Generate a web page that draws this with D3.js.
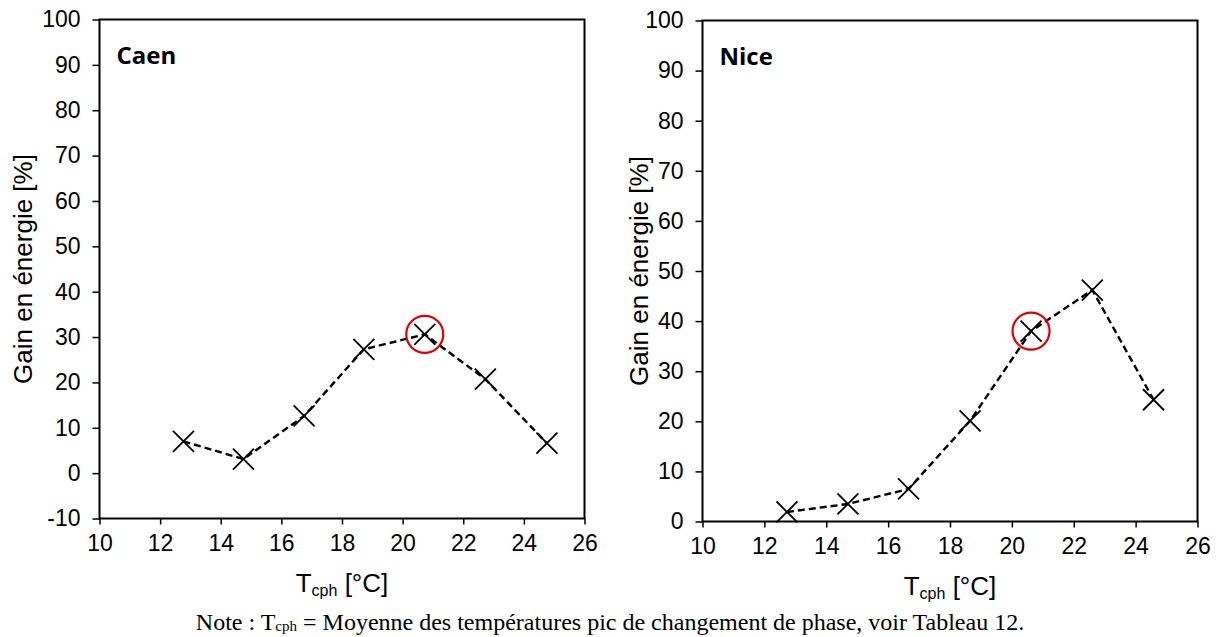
<!DOCTYPE html>
<html>
<head>
<meta charset="utf-8">
<script src="https://cdn.jsdelivr.net/npm/d3@7"></script>
<style>
  body { margin: 0; background: #fff; }
  svg { display: block; }
</style>
</head>
<body>
<svg id="mainsvg" width="1221" height="637"></svg>
<script>
// donnees
const caenT = [12.77, 14.75, 16.75, 18.72, 20.73, 22.73, 24.76];
const caenGain = [7.0, 3.1, 12.6, 27.3, 30.6, 20.7, 6.6];
const niceT = [12.73, 14.70, 16.66, 18.65, 20.62, 22.60, 24.58];
const niceGain = [1.9, 3.5, 6.5, 20.1, 38.0, 46.2, 24.3];
const highlight = 4; // point entoure en rouge
const xTicks = [10, 12, 14, 16, 18, 20, 22, 24, 26];
const caenYTicks = [-10, 0, 10, 20, 30, 40, 50, 60, 70, 80, 90, 100];
const niceYTicks = [0, 10, 20, 30, 40, 50, 60, 70, 80, 90, 100];

const svg = d3.select('#mainsvg');
const tickFont = '"Liberation Sans", Arial, sans-serif';

const panels = [
    { name: 'Caen', t: caenT, gain: caenGain, yTicks: caenYTicks, yDomain: [-10, 100],
      left: 99.5, right: 584.5, top: 19.5, bottom: 518.5, ytitleX: 32 },
    { name: 'Nice', t: niceT, gain: niceGain, yTicks: niceYTicks, yDomain: [0, 100],
      left: 702.5, right: 1197.5, top: 20.5, bottom: 521.5, ytitleX: 648 }
];

panels.forEach(p => {
    const x = d3.scaleLinear().domain([10, 26]).range([p.left, p.right]);
    const y = d3.scaleLinear().domain(p.yDomain).range([p.bottom, p.top]);

    const g = svg.append('g');

    const yAxis = d3.axisLeft(y).tickValues(p.yTicks).tickFormat(d => String(d))
        .tickSize(7).tickSizeOuter(0).tickPadding(12);
    const gy = g.append('g').attr('transform', `translate(${p.left},0)`).call(yAxis);
    gy.select('.domain').remove();

    const xAxis = d3.axisBottom(x).tickValues(xTicks).tickFormat(d => String(d))
        .tickSize(6).tickSizeOuter(0).tickPadding(10);
    const gx = g.append('g').attr('transform', `translate(0,${p.bottom})`).call(xAxis);
    gx.select('.domain').remove();

    g.selectAll('.tick line').attr('stroke', '#000').attr('stroke-width', 1.5);
    g.selectAll('.tick text').attr('font-family', tickFont).attr('font-size', '23px').attr('fill', '#000');

    // cadre
    g.append('rect')
        .attr('x', p.left).attr('y', p.top)
        .attr('width', p.right - p.left).attr('height', p.bottom - p.top)
        .attr('fill', 'none').attr('stroke', '#000').attr('stroke-width', 2);

    const pts = p.t.map((t, i) => ({ t: t, v: p.gain[i] }));

    g.append('path')
        .datum(pts)
        .attr('fill', 'none')
        .attr('stroke', '#000')
        .attr('stroke-width', 2.4)
        .attr('stroke-dasharray', '7,4')
        .attr('d', d3.line().x(d => x(d.t)).y(d => y(d.v)));

    const s = 10.5;
    pts.forEach(d => {
        const cx = x(d.t), cy = y(d.v);
        g.append('path')
            .attr('d', `M${cx - s},${cy - s}L${cx + s},${cy + s}M${cx - s},${cy + s}L${cx + s},${cy - s}`)
            .attr('stroke', '#000').attr('stroke-width', 1.8).attr('fill', 'none');
    });

    const h = pts[highlight];
    g.append('circle')
        .attr('cx', x(h.t)).attr('cy', y(h.v)).attr('r', 18.5)
        .attr('fill', 'none').attr('stroke', '#e00000').attr('stroke-width', 2.2);

    g.append('text').text(p.name)
        .attr('x', p.left + 17).attr('y', p.top + 44)
        .attr('font-family', '"Open Sans", sans-serif')
        .attr('font-weight', 'bold').attr('font-size', '24px');

    g.append('text').text('Gain en énergie [%]')
        .attr('transform', `translate(${p.ytitleX},${(p.top + p.bottom) / 2}) rotate(-90)`)
        .attr('text-anchor', 'middle')
        .attr('font-family', tickFont).attr('font-size', '26px');

    const xt = g.append('text')
        .attr('x', (p.left + p.right) / 2).attr('y', p.bottom + 73)
        .attr('text-anchor', 'middle')
        .attr('font-family', tickFont).attr('font-size', '26px');
    xt.append('tspan').text('T');
    xt.append('tspan').text('cph').attr('font-size', '16px').attr('dy', 4);
    xt.append('tspan').text(' [°C]').attr('dy', -4);
});

const note = svg.append('text')
    .attr('x', 610).attr('y', 630)
    .attr('text-anchor', 'middle')
    .attr('font-family', '"Liberation Serif", "Times New Roman", serif')
    .attr('font-size', '24px');
note.append('tspan').text('Note : T');
note.append('tspan').text('cph').attr('font-size', '15px').attr('dy', 1);
note.append('tspan').text(' = Moyenne des températures pic de changement de phase, voir Tableau 12.').attr('dy', -1);
</script>
</body>
</html>
